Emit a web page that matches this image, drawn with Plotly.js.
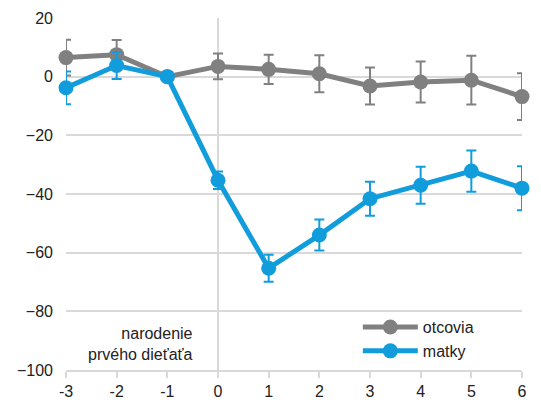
<!DOCTYPE html>
<html><head><meta charset="utf-8">
<script src="https://cdn.plot.ly/plotly-3.0.1.min.js"></script>
<style>html,body{margin:0;padding:0;background:#fff}#c{width:541px;height:403px}</style>
</head><body><div id="c"></div>
<script>
var years = [-3,-2,-1,0,1,2,3,4,5,6];
var otcovia = [6.5,7.5,0,3.5,2.5,1,-3.2,-1.8,-1.2,-6.8];
var otcoviaErr = [6.1,5,0,4.4,5,6.3,6.3,7,8.3,8];
var matky = [-3.8,3.8,0,-35.3,-65.3,-54,-41.6,-37,-32.2,-38];
var matkyErr = [5.6,4.6,0,3,4.6,5.3,5.8,6.3,7,7.5];
var yTicks = [-100,-80,-60,-40,-20,0,20];
var gray = '#808080', blue = '#119ddc';
var font = 'Liberation Sans, Arial, sans-serif';
var traces = [
 {x: years, y: otcovia, name: 'otcovia', mode: 'lines+markers', type: 'scatter', cliponaxis: false,
  line: {color: gray, width: 5}, marker: {color: gray, size: 15},
  error_y: {type: 'data', array: otcoviaErr, visible: true, color: gray, thickness: 2, width: 5}},
 {x: years, y: matky, name: 'matky', mode: 'lines+markers', type: 'scatter', cliponaxis: false,
  line: {color: blue, width: 5}, marker: {color: blue, size: 15},
  error_y: {type: 'data', array: matkyErr, visible: true, color: blue, thickness: 2, width: 5}}
];
var layout = {
 width: 541, height: 403,
 margin: {l: 66, r: 19, t: 18, b: 33},
 paper_bgcolor: '#fff', plot_bgcolor: '#fff',
 font: {family: font, size: 16, color: '#222'},
 showlegend: true,
 legend: {x: 0.64, y: 0.17, xanchor: 'left', yanchor: 'top', bgcolor: 'rgba(0,0,0,0)', font: {size: 16, color: '#222'}, tracegroupgap: 0, itemwidth: 55},
 xaxis: {range: [-3, 6], tickvals: years, ticktext: years.map(String), showgrid: false,
   zeroline: true, zerolinecolor: '#d9d9d9', zerolinewidth: 2,
   showline: true, linecolor: '#d9d9d9', linewidth: 2, ticks: 'outside', tickcolor: '#d9d9d9', ticklen: 6, tickwidth: 2,
   tickfont: {size: 16, color: '#222'}, fixedrange: true, automargin: false},
 yaxis: {range: [-100, 20], tickvals: yTicks, showgrid: true, gridcolor: '#d9d9d9', gridwidth: 2,
   zeroline: false, showline: false, ticks: '', ticklabelstandoff: 12,
   tickfont: {size: 16, color: '#222'}, fixedrange: true, automargin: false},
 annotations: [{x: -0.45, y: -84, xref: 'x', yref: 'y', xanchor: 'right', yanchor: 'top', align: 'right', showarrow: false,
   text: 'narodenie<br>prvého dieťaťa', font: {size: 16, color: '#222'}}]
};
Plotly.newPlot('c', traces, layout, {displayModeBar: false, staticPlot: true});
</script></body></html>
